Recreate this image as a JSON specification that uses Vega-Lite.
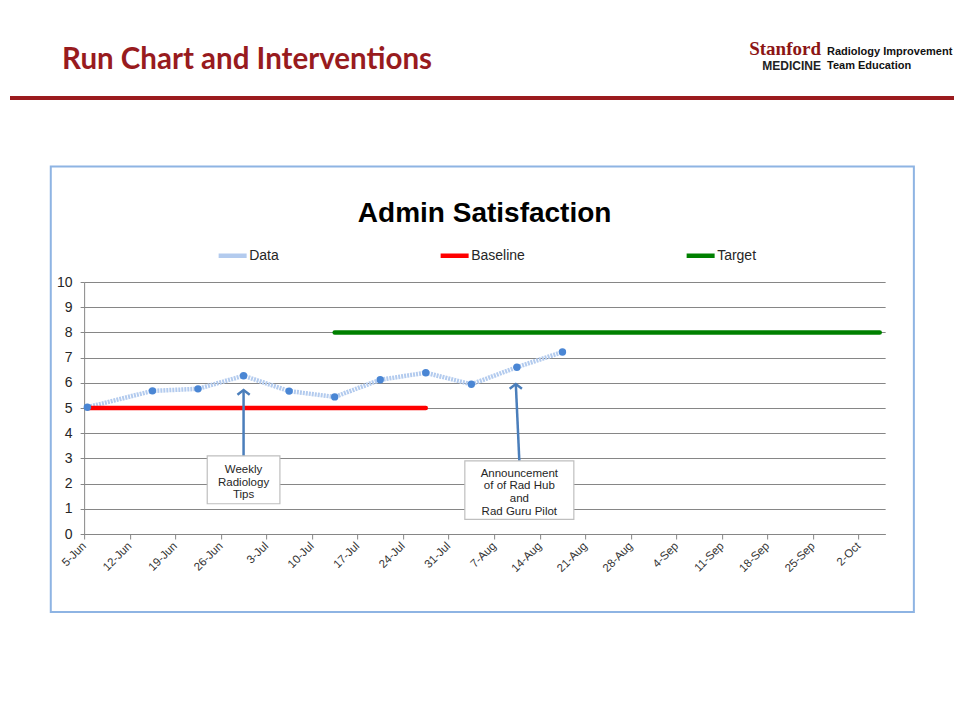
{
  "$schema": "https://vega.github.io/schema/vega-lite/v6.json",
  "background": "white",
  "padding": {"left": 10, "top": 40, "right": 0, "bottom": 0},
  "config": {
    "font": "Liberation Sans",
    "view": {"stroke": null},
    "axisY": {"tickCount": 12}
  },
  "datasets": {
    "weekly": [
      {"series": "Data", "week": "2017-06-05T12:00", "score": 5.03},
      {"series": "Data", "week": "2017-06-15T12:00", "score": 5.68},
      {"series": "Data", "week": "2017-06-22T12:00", "score": 5.76},
      {"series": "Data", "week": "2017-06-29T12:00", "score": 6.28},
      {"series": "Data", "week": "2017-07-06T12:00", "score": 5.67},
      {"series": "Data", "week": "2017-07-13T12:00", "score": 5.44},
      {"series": "Data", "week": "2017-07-20T12:00", "score": 6.12},
      {"series": "Data", "week": "2017-07-27T12:00", "score": 6.4},
      {"series": "Data", "week": "2017-08-03T12:00", "score": 5.94},
      {"series": "Data", "week": "2017-08-10T12:00", "score": 6.62},
      {"series": "Data", "week": "2017-08-17T12:00", "score": 7.22}
    ],
    "refs": [
      {"series": "Baseline", "week": "2017-06-05T12:00", "score": 5},
      {"series": "Baseline", "week": "2017-07-27T12:00", "score": 5},
      {"series": "Target", "week": "2017-07-13T12:00", "score": 8},
      {"series": "Target", "week": "2017-10-05T06:00", "score": 8}
    ],
    "notes": [
      {"note": "Weekly\nRadiology\nTips", "start": "2017-06-23T22:00", "end": "2017-07-05T02:00", "top": 3.1, "bottom": 1.2, "mid": "2017-06-29T12:00", "firstLine": 2.54, "tail": "2017-06-29T12:00", "from": 3.1, "tip": "2017-06-29T12:00", "to": 5.71},
      {"note": "Announcement\nof of Rad Hub\nand\nRad Guru Pilot", "start": "2017-08-02T12:00", "end": "2017-08-19T06:00", "top": 2.9, "bottom": 0.58, "mid": "2017-08-10T21:00", "firstLine": 2.39, "tail": "2017-08-10T21:00", "from": 2.9, "tip": "2017-08-10T08:00", "to": 5.95}
    ]
  },
  "spacing": 62,
  "center": true,
  "resolve": {"legend": {"color": "independent"}},
  "vconcat": [
    {
      "hconcat": [
        {
          "width": 700, "height": 4,
          "data": {"values": [{"part": "header"}]},
          "mark": {"type": "text", "text": ""},
          "encoding": {},
          "view": {"fill": "#9b1b1e", "stroke": null},
          "title": {"text": "Run Chart and Interventions", "anchor": "start", "frame": "group", "dx": 52, "offset": 17, "font": "Lato", "fontSize": 29.5, "fontWeight": "bold", "color": "#981b1e"}
        },
        {
          "width": 111, "height": 4,
          "data": {"values": [{"part": "logo"}]},
          "mark": {"type": "text", "text": ""},
          "encoding": {},
          "view": {"fill": "#9b1b1e", "stroke": null},
          "title": {"text": "Stanford", "subtitle": "MEDICINE", "anchor": "end", "frame": "group", "offset": 20, "font": "Liberation Serif", "fontSize": 19, "fontWeight": "bold", "color": "#8c1515", "subtitleFont": "Liberation Sans", "subtitleFontSize": 12, "subtitleFontWeight": "bold", "subtitleColor": "#222222", "subtitlePadding": 2}
        },
        {
          "width": 168, "height": 4,
          "data": {"values": [{"part": "unit"}]},
          "mark": {"type": "text", "text": ""},
          "encoding": {},
          "view": {"fill": "#9b1b1e", "stroke": null},
          "title": {"text": "Radiology Improvement", "subtitle": "Team Education", "anchor": "start", "frame": "group", "dx": 6, "offset": 21, "font": "Liberation Sans", "fontSize": 11, "fontWeight": "bold", "color": "#111111", "subtitleFont": "Liberation Sans", "subtitleFontSize": 11, "subtitleFontWeight": "bold", "subtitleColor": "#111111", "subtitlePadding": 3}
        }
      ],
      "spacing": 0,
      "bounds": "flush"
    },
    {
      "width": 801,
      "height": 252,
      "title": {"text": "Admin Satisfaction", "anchor": "middle", "frame": "group", "offset": -62, "font": "Liberation Sans", "fontSize": 28, "fontWeight": "bold", "color": "#000000"},
      "layer": [
        {
          "data": {"name": "weekly"},
          "mark": {"type": "line", "strokeWidth": 4.5, "strokeDash": [2, 1], "color": "#b3cbee"},
          "encoding": {
            "x": {
              "field": "week", "type": "temporal",
              "scale": {"domain": [{"year": 2017, "month": 6, "date": 5}, {"year": 2017, "month": 10, "date": 6, "hours": 2}], "nice": false},
              "axis": {
                "title": null,
                "values": [
                  {"year": 2017, "month": 6, "date": 5}, {"year": 2017, "month": 6, "date": 12}, {"year": 2017, "month": 6, "date": 19}, {"year": 2017, "month": 6, "date": 26},
                  {"year": 2017, "month": 7, "date": 3}, {"year": 2017, "month": 7, "date": 10}, {"year": 2017, "month": 7, "date": 17}, {"year": 2017, "month": 7, "date": 24}, {"year": 2017, "month": 7, "date": 31},
                  {"year": 2017, "month": 8, "date": 7}, {"year": 2017, "month": 8, "date": 14}, {"year": 2017, "month": 8, "date": 21}, {"year": 2017, "month": 8, "date": 28},
                  {"year": 2017, "month": 9, "date": 4}, {"year": 2017, "month": 9, "date": 11}, {"year": 2017, "month": 9, "date": 18}, {"year": 2017, "month": 9, "date": 25},
                  {"year": 2017, "month": 10, "date": 2}
                ],
                "tickCount": 30,
                "format": "%-d-%b",
                "labelAngle": -45,
                "labelAlign": "right",
                "labelBaseline": "middle",
                "labelPadding": 5,
                "labelFontSize": 11.5,
                "labelColor": "#333333",
                "labelOverlap": false,
                "labelFlush": false,
                "grid": false,
                "tickSize": 5,
                "tickColor": "#868686",
                "domainColor": "#868686"
              }
            },
            "y": {
              "field": "score", "type": "quantitative",
              "scale": {"domain": [0, 10], "nice": false},
              "axis": {
                "title": null,
                "values": [0, 1, 2, 3, 4, 5, 6, 7, 8, 9, 10],
                "tickCount": 12,
                "labelOverlap": false,
                "grid": true,
                "gridColor": "#868686",
                "domainColor": "#868686",
                "tickColor": "#868686",
                "tickSize": 4,
                "labelFontSize": 14,
                "labelColor": "#262626",
                "labelPadding": 8
              }
            },
            "color": {
              "field": "series", "type": "nominal",
              "scale": {"domain": ["Data", "Baseline", "Target"], "range": ["#b3cbee", "#ff0000", "#008000"]},
              "legend": {
                "title": null,
                "orient": "none",
                "legendX": 132,
                "legendY": -43,
                "direction": "horizontal",
                "padding": 0,
                "columnPadding": 152,
                "labelOffset": 0,
                "symbolType": "stroke",
                "symbolSize": 784,
                "symbolStrokeWidth": 4.5,
                "labelFontSize": 14,
                "labelColor": "#262626"
              }
            }
          }
        },
        {
          "data": {"name": "refs"},
          "mark": {"type": "line", "strokeWidth": 4.5, "strokeCap": "round"},
          "encoding": {
            "x": {"field": "week", "type": "temporal"},
            "y": {"field": "score", "type": "quantitative"},
            "color": {"field": "series", "type": "nominal"}
          }
        },
        {
          "data": {"name": "weekly"},
          "mark": {"type": "point", "filled": true, "size": 55, "color": "#4a86d4", "opacity": 1},
          "encoding": {
            "x": {"field": "week", "type": "temporal"},
            "y": {"field": "score", "type": "quantitative"}
          }
        },
        {
          "data": {"name": "notes"},
          "mark": {"type": "rule", "color": "#4a7ebb", "strokeWidth": 2.5},
          "encoding": {
            "x": {"field": "tail", "type": "temporal"},
            "x2": {"field": "tip"},
            "y": {"field": "from", "type": "quantitative"},
            "y2": {"field": "to"}
          }
        },
        {
          "data": {"name": "notes"},
          "mark": {"type": "point", "shape": "M-1,0.75L0,0L1,0.75", "filled": false, "size": 150, "strokeWidth": 2.5, "color": "#4a7ebb", "opacity": 1},
          "encoding": {
            "x": {"field": "tip", "type": "temporal"},
            "y": {"field": "to", "type": "quantitative"}
          }
        },
        {
          "data": {"name": "notes"},
          "mark": {"type": "rect", "fill": "white", "stroke": "#bfbfbf", "strokeWidth": 1.2},
          "encoding": {
            "x": {"field": "start", "type": "temporal"},
            "x2": {"field": "end"},
            "y": {"field": "top", "type": "quantitative"},
            "y2": {"field": "bottom"}
          }
        },
        {
          "data": {"name": "notes"},
          "mark": {"type": "text", "lineBreak": "\n", "fontSize": 11.5, "lineHeight": 12.6, "align": "center", "baseline": "middle", "color": "#262626"},
          "encoding": {
            "x": {"field": "mid", "type": "temporal"},
            "y": {"field": "firstLine", "type": "quantitative"},
            "text": {"field": "note"}
          }
        },
        {
          "data": {"values": [{"frame": "chart area"}]},
          "mark": {"type": "rect", "filled": false, "stroke": "#8eb4e3", "strokeWidth": 2},
          "encoding": {
            "x": {"datum": {"year": 2017, "month": 5, "date": 30, "hours": 21}, "type": "temporal"},
            "x2": {"datum": {"year": 2017, "month": 10, "date": 10, "hours": 12}},
            "y": {"datum": 14.58, "type": "quantitative"},
            "y2": {"datum": -3.1}
          }
        }
      ]
    }
  ]
}
